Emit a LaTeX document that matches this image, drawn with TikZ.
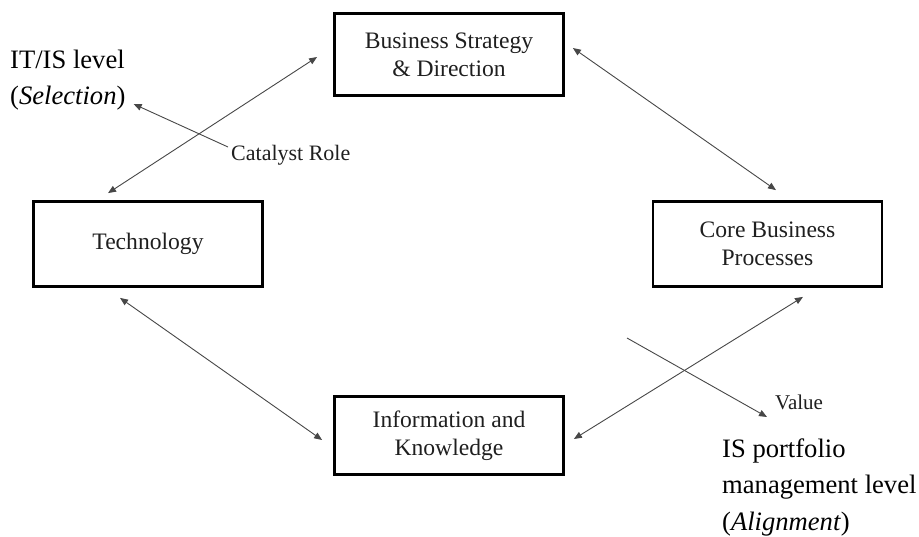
\documentclass[tikz,border=0pt]{standalone}
\usepackage{fontspec}
\setmainfont{Liberation Serif}
\usetikzlibrary{arrows.meta,calc}
\begin{document}
\begin{tikzpicture}[x=1pt,y=-1pt,
  box/.style={draw=black, line width=2.8pt, minimum width=229pt, inner sep=0pt, align=center,
    font=\fontsize{23.6}{28}\selectfont, text=black!88},
  conn/.style={{Triangle[length=8pt,width=6.5pt]}-{Triangle[length=8pt,width=6.5pt]}, line width=0.9pt, draw=black!72},
  oneway/.style={-{Triangle[length=8pt,width=6.5pt]}, line width=0.9pt, draw=black!72},
  lbl/.style={inner sep=0pt, text=black!88},
  lvl/.style={inner sep=0pt, align=left, font=\fontsize{26.6}{36.5}\selectfont, text=black}]
\useasboundingbox (0,0) rectangle (919,536);

\node[box, minimum height=82pt] (bs)   at (449,54.5)  {Business Strategy\\\& Direction};
\node[box, minimum height=85pt] (tech) at (148,244)   {Technology};
\node[box, minimum height=85pt] (core) at (767.5,244) {Core Business\\Processes};
\node[box, minimum height=78pt] (info) at (449,435.5) {Information and\\Knowledge};

\draw[conn] ($(bs.west)+(-16,2.5)$) -- ($(tech.north)+(-40,-7)$);
\draw[conn] ($(bs.east)+(8,-6.5)$) -- ($(core.north)+(8.5,-10)$);
\draw[conn] ($(tech.south)+(-28,10)$) -- ($(info.west)+(-11,4.5)$);
\draw[conn] ($(info.east)+(9,3.5)$) -- ($(core.south)+(35.5,9)$);

\node[lvl, anchor=west] (itis) at (10,80) {IT/IS level\\(\textit{Selection})};
\node[lbl, anchor=west, font=\fontsize{22}{26}\selectfont] (cat) at (231,155) {Catalyst Role};
\draw[oneway] ($(cat.west)+(-3,-8)$) -- ($(itis.east)+(8,24)$);

\node[lbl, anchor=west, font=\fontsize{21}{25}\selectfont] (val) at (775,402) {Value};
\coordinate (valtail) at (627,338);
\draw[oneway] (valtail) -- ($(val.west)+(-8,15)$);

\node[lvl, anchor=west] (isp) at (722,487) {IS portfolio\\management level\\(\textit{Alignment})};
\end{tikzpicture}
\end{document}
